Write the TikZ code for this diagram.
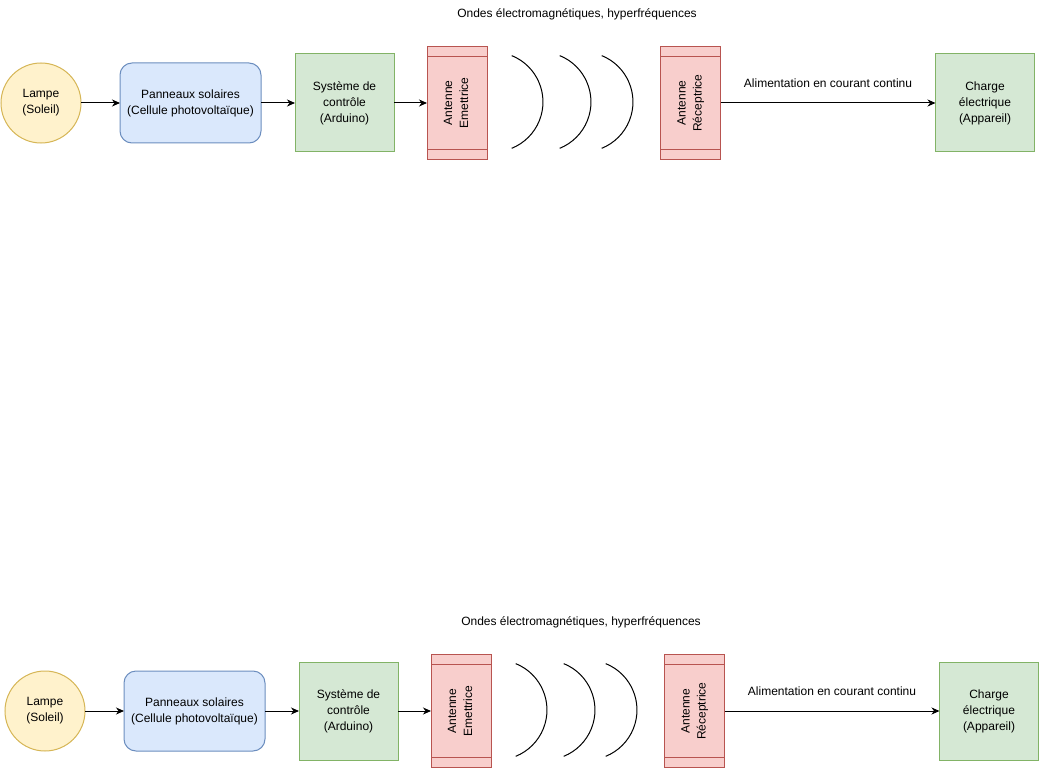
\documentclass[tikz,border=0pt]{standalone}
\usepackage{fontspec}
\setmainfont{Liberation Sans}
\usetikzlibrary{arrows.meta}

\definecolor{lampfill}{HTML}{FFF2CC}
\definecolor{lampline}{HTML}{D6B656}
\definecolor{panelfill}{HTML}{DAE8FC}
\definecolor{panelline}{HTML}{6C8EBF}
\definecolor{greenfill}{HTML}{D5E8D4}
\definecolor{greenline}{HTML}{82B366}
\definecolor{antfill}{HTML}{F8CECC}
\definecolor{antline}{HTML}{B85450}

\tikzset{
  every node/.style={font=\fontsize{12}{16}\selectfont, align=center, text=black},
  base/.style={draw, line width=1pt, inner sep=0pt, outer sep=0pt},
  lampnode/.style={base, circle, fill=lampfill, draw=lampline, minimum size=80pt},
  panelnode/.style={base, rectangle, rounded corners=12pt, fill=panelfill, draw=panelline,
    minimum width=141pt, minimum height=80pt},
  greennode/.style={base, rectangle, fill=greenfill, draw=greenline,
    minimum width=99pt, minimum height=98pt},
  antnode/.style={base, rectangle, fill=antfill, draw=antline,
    minimum width=60pt, minimum height=113pt,
    path picture={
      \draw[antline, line width=1pt]
        ([yshift=-10pt]path picture bounding box.north west) --
        ([yshift=-10pt]path picture bounding box.north east);
      \draw[antline, line width=1pt]
        ([yshift=10pt]path picture bounding box.south west) --
        ([yshift=10pt]path picture bounding box.south east);
    }},
  flow/.style={line width=1pt, draw=black, -{Stealth[length=8pt, width=7pt, inset=2.5pt]}},
  wave/.style={line width=1pt, draw=black},
}

% vertical two-line caption inside an antenna
\newcommand{\vlabel}[2]{\rotatebox{90}{\begin{tabular}{@{}c@{}}#1\\#2\end{tabular}}}

% one complete chain, from the lamp to the load
\newcommand{\energychain}{%
  \node[lampnode]  (lamp)   at (41,103)    {Lampe\\(Soleil)};
  \node[panelnode] (panel)  at (190.5,103) {Panneaux solaires\\(Cellule photovoltaïque)};
  \node[greennode] (ctrl)   at (344.5,103) {Système de\\contrôle\\(Arduino)};
  \node[antnode]   (tx)     at (457,103)   {\vlabel{Antenne}{Emettrice}};
  \node[antnode]   (rx)     at (690.5,103) {\vlabel{Antenne}{Réceptrice}};
  \node[greennode] (load)   at (985,103)   {Charge\\électrique\\(Appareil)};
  \node            (wavetxt) at (577,14)   {Ondes électromagnétiques, hyperfréquences};
  % radiated waves
  \draw[wave] (511.7,55.6) arc[start angle=68, end angle=-68, radius=50pt];
  \draw[wave] (559.7,55.6) arc[start angle=68, end angle=-68, radius=50pt];
  \draw[wave] (601.7,55.6) arc[start angle=68, end angle=-68, radius=50pt];
  % power flow
  \draw[flow] (lamp) -- (panel);
  \draw[flow] (panel) -- (ctrl);
  \draw[flow] (ctrl) -- (tx);
  \draw[flow] (rx) -- node[midway, yshift=20pt] {Alimentation en courant continu} (load);
}

\begin{document}
\begin{tikzpicture}[x=1pt, y=-1pt]
  \fill[white] (0,0) rectangle (1039,781);
  \useasboundingbox (0,0) rectangle (1039,781);
  \begin{scope}[name prefix=t-]
    \energychain
  \end{scope}
  \begin{scope}[shift={(4,608)}, name prefix=b-]
    \energychain
  \end{scope}
\end{tikzpicture}
\end{document}
